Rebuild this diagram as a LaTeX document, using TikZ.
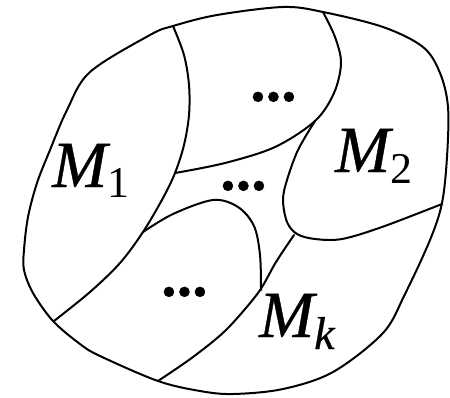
\documentclass[tikz,border=0pt]{standalone}
\usepackage{fontspec}
\setmainfont{Liberation Serif}
\newfontfamily\itlbl[FakeBold=0.6]{Liberation Serif Italic}
\newfontfamily\uplbl[FakeBold=0.6]{Liberation Serif}
\begin{document}
\begin{tikzpicture}[x=1pt,y=-1pt,
  edge/.style={line width=2pt,line join=round,line cap=round},
  lbl/.style={inner sep=0pt,anchor=base west,font=\fontsize{66}{66}\selectfont},
  dots/.style={inner sep=0pt,anchor=base west,font=\uplbl\fontsize{62}{62}\selectfont\bfseries}]
\useasboundingbox (0,0) rectangle (450,397);
% outer boundary
\draw[edge] plot[smooth cycle,tension=0.55] coordinates {
 (283,7) (323,12) (383,27) (423,47) (440,73) (448,107) (447,157) (442,203)
 (430,240) (405,294) (383,333) (333,372) (283,389) (233,394) (200,391)
 (158,381) (100,356) (80,344) (53,321) (33,293) (24,270) (24,250) (28,217)
 (37,183) (50,150) (67,110) (90,72) (150,35) (173,26) (217,15)};
% curve A
\draw[edge] plot[smooth,tension=0.55] coordinates {
 (173,26) (184,55) (189,85) (189,115) (184,145) (175,173) (163,198) (143,232)
 (120,263) (90,292) (54,321)};
% curve B
\draw[edge] plot[smooth,tension=0.55] coordinates {
 (175,173) (225,163) (275,147) (315,121) (334,93) (341,63) (335,37) (323,12)};
% curve C
\draw[edge] plot[smooth,tension=0.55] coordinates {
 (315,121) (298,150) (287,180) (283,200) (287,222) (297,234) (315,239)
 (342,239) (382,227) (442,204)};
% line from C to bottom
\draw[edge] plot[smooth,tension=0.5] coordinates {
 (294,235) (276,262) (258,293) (226,330) (193,357) (158,381)};
% curve D
\draw[edge] plot[smooth,tension=0.55] coordinates {
 (143,232) (173,214) (213,200) (238,207) (254,226) (260,255) (261,290)};
% labels
\node[lbl] (m1) at (52,187) {{\itlbl M}\raisebox{-10pt}{\fontsize{44}{44}\selectfont 1}};
\node[lbl] (m2) at (335,172) {{\itlbl M}\raisebox{-11pt}{\fontsize{44}{44}\selectfont 2}};
\node[lbl] (mk) at (259,337) {{\itlbl M}\raisebox{-12pt}{\itlbl\fontsize{46}{46}\selectfont k}};
\node[dots] (d1) at (250,101) {...};
\node[dots] (d2) at (220,190) {...};
\node[dots] (d3) at (161,296) {...};
\end{tikzpicture}
\end{document}
